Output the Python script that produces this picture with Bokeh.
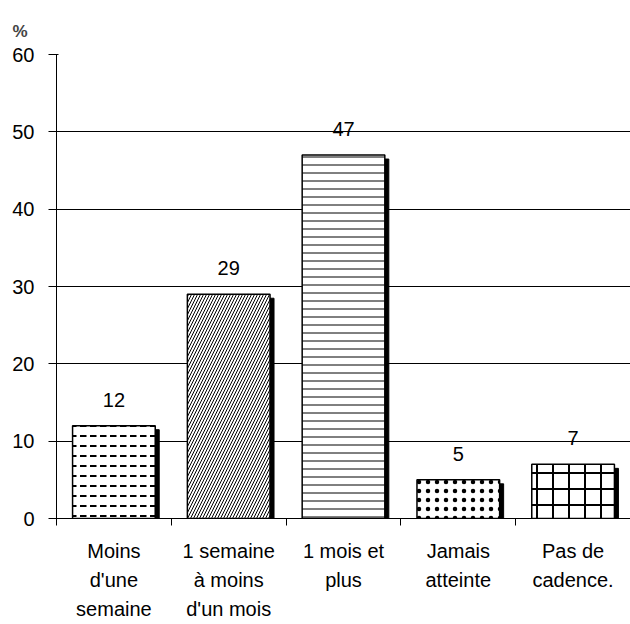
from bokeh.plotting import figure
from bokeh.models import (Range1d, FixedTicker, LinearAxis, ColumnDataSource,
                          CDSView, IndexFilter)
from bokeh.transform import dodge
from bokeh.core.properties import value
from bokeh.embed import file_html
from bokeh.resources import INLINE

# Data
label_lines = [
    ["Moins", "d'une", "semaine"],
    ["1 semaine", "à moins", "d'un mois"],
    ["1 mois et", "plus", ""],
    ["Jamais", "atteinte", ""],
    ["Pas de", "cadence.", ""],
]
values = [12, 29, 47, 5, 7]
patterns = ["horizontal_dash", "right_diagonal_line", "horizontal_line", "dot", "cross"]
hatch_scales = [10, 6, 8, 9, 16]
hatch_weights = [2, 1, 1, 0.8, 2]
y_ticks = [0, 10, 20, 30, 40, 50, 60]

FONT = "Liberation Sans"
W, H = 630, 624
LEFT, TOP, BOTTOM = 56, 54, 106
frame_w = W - LEFT
frame_h = H - TOP - BOTTOM

n = len(values)
centers = [i + 0.5 for i in range(n)]
boundaries = list(range(n + 1))

# shadow offset: 4 px right, 4 px down
dx = 4 * n / frame_w
dy = 4 * 60 / frame_h

src = ColumnDataSource(dict(
    x=centers,
    top=values,
    shadow_top=[v - dy for v in values],
    label=[str(v) for v in values],
))

p = figure(width=W, height=H, x_range=Range1d(0, n), y_range=Range1d(0, 60),
           output_backend="svg", toolbar_location=None, x_axis_location=None,
           min_border_left=LEFT, min_border_right=0, min_border_top=TOP,
           min_border_bottom=BOTTOM)
p.outline_line_color = None
p.background_fill_color = "white"
p.border_fill_color = "white"

# "%" unit marker at the top left
p.title.text = "%"
p.title.text_font = FONT
p.title.text_font_size = "17px"
p.title.text_font_style = "bold"
p.title.align = "left"
p.title.offset = -44
p.title.standoff = 28

# grid
p.xgrid.visible = False
p.ygrid.ticker = FixedTicker(ticks=y_ticks)
p.ygrid.grid_line_color = "black"
p.ygrid.grid_line_width = 1

# y axis
ya = p.yaxis[0]
ya.ticker = FixedTicker(ticks=y_ticks, minor_ticks=[])
ya.major_tick_in = 2
ya.major_tick_out = 8
ya.minor_tick_in = 0
ya.minor_tick_out = 0
ya.axis_line_color = "black"
ya.major_tick_line_color = "black"
ya.major_label_text_font = FONT
ya.major_label_text_font_size = "20px"
ya.major_label_text_color = "black"
ya.major_label_standoff = 14

# x axes: one per label line
standoffs = [14, 4, 4]
for row in range(3):
    ax = LinearAxis(
        ticker=FixedTicker(ticks=centers, minor_ticks=boundaries if row == 0 else []),
        major_label_overrides={c: lines[row] for c, lines in zip(centers, label_lines)},
        major_tick_in=0, major_tick_out=0,
        minor_tick_in=0, minor_tick_out=7 if row == 0 else 0,
        minor_tick_line_color="black",
        axis_line_color="black" if row == 0 else None,
        major_label_text_font=FONT,
        major_label_text_font_size="20px",
        major_label_text_color="black",
        major_label_standoff=standoffs[row],
    )
    p.add_layout(ax, "below")

# shadows
p.vbar(x=dodge("x", dx), top="shadow_top", bottom=0, width=0.72, source=src,
       fill_color="black", line_color="black")
# bars, one renderer each for its own fill pattern
for i in range(n):
    p.vbar(x="x", top="top", bottom=0, width=0.72, source=src,
           view=CDSView(filter=IndexFilter([i])),
           fill_color="white", line_color="black", line_width=1.5,
           hatch_pattern=patterns[i], hatch_color="black",
           hatch_scale=hatch_scales[i], hatch_weight=hatch_weights[i])
# value labels
p.text(x="x", y="top", text="label", source=src, text_align="center",
       text_baseline="alphabetic", y_offset=-26, text_font=value(FONT),
       text_font_size="20px", text_color="black")

open("out.html", "w").write(file_html(p, INLINE))
